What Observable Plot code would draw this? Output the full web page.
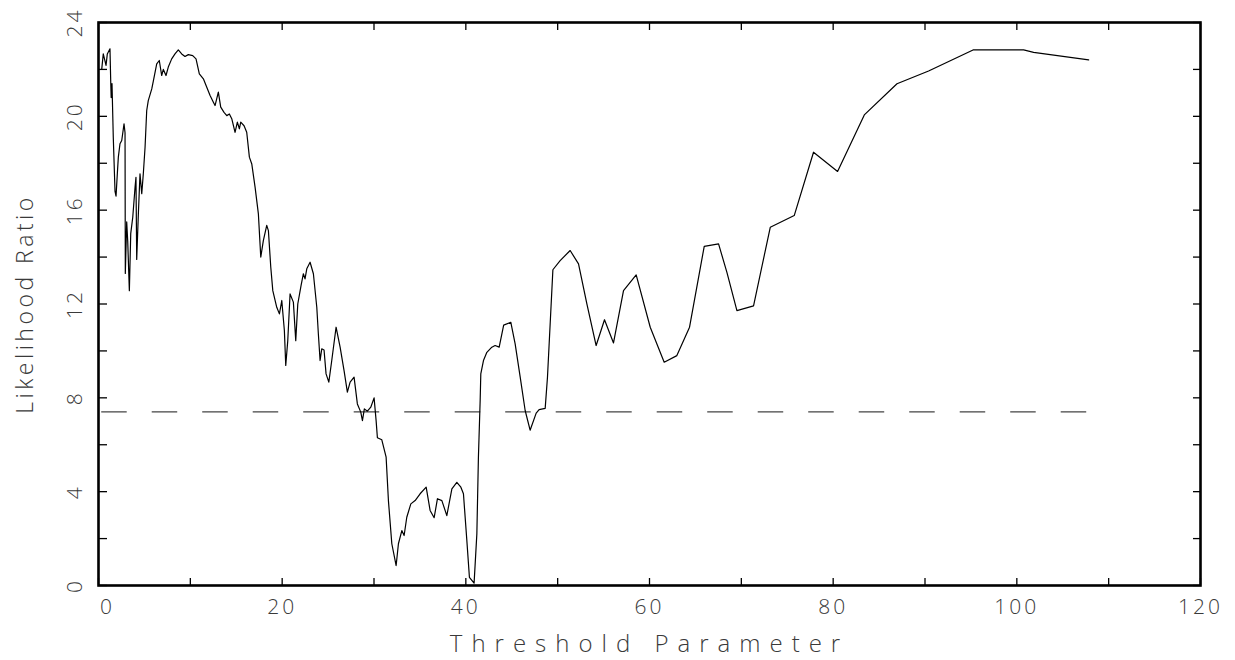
<!DOCTYPE html>
<html>
<head>
<meta charset="utf-8">
<script src="https://cdn.jsdelivr.net/npm/d3@7"></script>
<script src="https://cdn.jsdelivr.net/npm/@observablehq/plot@0.6"></script>
<style>
  html, body { margin: 0; padding: 0; background: #ffffff; }
  #chart svg { display: block; }
</style>
</head>
<body>
<div id="chart"></div>
<script>
// Threshold parameter (x) and likelihood ratio (y)
const threshold = [
  0.35, 0.52, 0.82, 0.96, 1.25, 1.33, 1.38, 1.47, 1.61, 1.80, 1.91, 2.05, 2.16, 2.34, 2.53, 2.78, 2.89, 2.92,
  3.07, 3.18, 3.36, 3.51, 3.73, 3.98, 4.08, 4.16, 4.34, 4.52, 4.71, 4.88, 5.07, 5.25, 5.42, 5.80, 5.97,
  6.34, 6.62, 6.88, 7.06, 7.35, 7.60, 7.97, 8.33, 8.69, 9.06, 9.42, 9.78, 10.26, 10.62, 10.98, 11.42,
  11.79, 12.15, 12.51, 12.69, 13.05, 13.31, 13.67, 13.97, 14.25, 14.51, 14.87, 15.12, 15.34, 15.49,
  15.85, 16.14, 16.43, 16.69, 17.05, 17.41, 17.67, 17.95, 18.32, 18.50, 18.76, 18.98, 19.41, 19.70,
  19.96, 20.02, 20.24, 20.39, 20.61, 20.86, 21.22, 21.48, 21.70, 22.06, 22.31, 22.49, 22.68, 23.04,
  23.40, 23.77, 23.94, 24.13, 24.31, 24.56, 24.78, 25.08, 25.40, 25.87, 26.31, 26.74, 27.10, 27.40,
  27.83, 28.19, 28.56, 28.74, 28.95, 29.28, 29.65, 30.01, 30.23, 30.37, 30.85, 31.32, 31.57, 31.94,
  32.41, 32.66, 33.03, 33.28, 33.57, 34.01, 34.48, 35.02, 35.68, 36.11, 36.55, 36.91, 37.39, 37.93,
  38.48, 39.02, 39.46, 39.74, 40.11, 40.39, 40.90, 41.20, 41.37, 41.56, 41.63, 41.92, 42.29, 42.83,
  43.19, 43.63, 44.12, 44.90, 45.37, 45.92, 46.46, 47.00, 47.66, 47.98, 48.64, 48.89, 49.48, 50.27,
  51.36, 52.27, 53.18, 54.19, 55.10, 56.08, 57.17, 58.55, 60.08, 61.60, 62.98, 64.36, 65.96, 67.52,
  68.43, 69.52, 71.33, 73.15, 75.76, 77.86, 80.48, 83.39, 86.95, 90.39, 95.23, 100.74, 101.83, 107.82
];
const likelihood = [
  22.00, 22.66, 22.17, 22.66, 22.88, 21.50, 20.80, 21.40, 19.10, 16.80, 16.60, 17.55, 18.26, 18.83, 18.97, 19.68, 19.30, 13.30,
  15.50, 14.70, 12.57, 15.00, 15.70, 16.98, 17.40, 13.90, 15.84, 17.55, 16.70, 17.55, 18.68, 20.25, 20.67, 21.17, 21.50,
  22.24, 22.38, 21.74, 22.00, 21.74, 22.10, 22.45, 22.66, 22.83, 22.66, 22.55, 22.63, 22.59, 22.45, 21.81, 21.60,
  21.24, 20.89, 20.60, 20.46, 21.03, 20.39, 20.17, 20.03, 20.10, 19.90, 19.32, 19.75, 19.47, 19.75,
  19.60, 19.32, 18.26, 17.97, 16.98, 15.84, 14.00, 14.70, 15.35, 15.13, 13.57, 12.57, 11.86, 11.58,
  12.15, 11.86, 10.87, 9.38, 10.44, 12.43, 12.08, 10.44, 12.00, 12.79, 13.29, 13.07, 13.50, 13.78,
  13.29, 11.86, 10.73, 9.59, 10.09, 10.04, 9.02, 8.67, 9.59, 11.01, 10.16, 9.16, 8.24, 8.67,
  8.88, 7.74, 7.39, 7.03, 7.53, 7.43, 7.60, 8.00, 7.03, 6.30, 6.21, 5.47, 3.62, 1.78,
  0.85, 1.78, 2.34, 2.13, 2.91, 3.48, 3.62, 3.91, 4.19, 3.20, 2.89, 3.70, 3.62, 2.98,
  4.12, 4.40, 4.19, 3.91, 1.92, 0.35, 0.10, 2.20, 5.47, 7.89, 9.02, 9.59, 9.94, 10.16,
  10.23, 10.16, 11.10, 11.22, 10.30, 8.88, 7.46, 6.62, 7.35, 7.50, 7.55, 8.88, 13.46, 13.85,
  14.28, 13.71, 12.01, 10.23, 11.33, 10.34, 12.57, 13.24, 11.01, 9.52, 9.80, 11.01, 14.46, 14.56,
  13.35, 11.72, 11.92, 15.27, 15.77, 18.47, 17.65, 20.06, 21.39, 21.93, 22.83, 22.83, 22.73, 22.41
];
const criticalValue = 7.4;

// Axis ticks and tick labels
const xTicks = [0, 10, 20, 30, 40, 50, 60, 70, 80, 90, 100, 110, 120];
const xLabels = [0, 20, 40, 60, 80, 100, 120];
const yTicks = [0, 2, 4, 6, 8, 10, 12, 14, 16, 18, 20, 22, 24];
const yLabels = [0, 4, 8, 12, 16, 20, 24];
const xTitle = "Threshold Parameter";
const yTitle = "Likelihood Ratio";

const data = threshold.map((x, i) => ({x, y: likelihood[i]}));
const xMin = d3.min(threshold), xMax = d3.max(threshold);

const FONT = "'Open Sans', 'DejaVu Sans', sans-serif";
const INK = "#3a3a3a";

const chart = Plot.plot({
  width: 1235,
  height: 660,
  marginTop: 22,
  marginRight: 35,
  marginBottom: 75,
  marginLeft: 98,
  style: {fontFamily: FONT, background: "#ffffff", color: INK},
  x: {domain: [0, 120]},
  y: {domain: [0, 24]},
  marks: [
    // inward ticks on all four sides
    Plot.axisX(xTicks, {anchor: "bottom", tickSize: 7, insetBottom: 7, tickFormat: () => "", stroke: "#000", strokeWidth: 1.3, label: null}),
    Plot.axisX(xTicks, {anchor: "top", tickSize: 7, insetTop: 7, tickFormat: () => "", stroke: "#000", strokeWidth: 1.3, label: null}),
    Plot.axisY(yTicks, {anchor: "left", tickSize: 9, insetLeft: 9, tickFormat: () => "", stroke: "#000", strokeWidth: 1.3, label: null}),
    Plot.axisY(yTicks, {anchor: "right", tickSize: 8, insetRight: 8, tickFormat: () => "", stroke: "#000", strokeWidth: 1.3, label: null}),
    // tick labels
    Plot.axisX(xLabels.filter(d => d !== 0), {anchor: "bottom", tickSize: 0, tickPadding: 14, fontSize: 21, fill: INK, label: null}),
    Plot.axisX(xLabels.filter(d => d === 0), {anchor: "bottom", tickSize: 0, tickPadding: 14, dx: 9, fontSize: 21, fill: INK, label: null}),
    Plot.axisY(yLabels, {anchor: "left", tickSize: 0, tickPadding: 23, rotate: -90, textAnchor: "middle", fontSize: 21, fill: INK, label: null}),
    // axis titles
    Plot.text([xTitle], {frameAnchor: "bottom", textAnchor: "middle", dy: 66, fontSize: 24, fill: INK}),
    Plot.text([yTitle], {frameAnchor: "left", textAnchor: "middle", dx: -73, rotate: -90, fontSize: 23, fill: INK}),
    // dashed critical value
    Plot.ruleY([criticalValue], {x1: xMin, x2: xMax, stroke: "#444", strokeWidth: 1.2, strokeDasharray: "25.5,25"}),
    // likelihood ratio curve
    Plot.line(data, {x: "x", y: "y", stroke: "#000", strokeWidth: 1.2}),
    Plot.frame({stroke: "#000", strokeWidth: 2.6})
  ]
});

// thin, widely spaced lettering like the original plotting font
d3.select(chart).selectAll("text").each(function () {
  const t = d3.select(this);
  const s = t.text();
  t.style("font-weight", 300);
  if (s === xTitle) t.attr("letter-spacing", "9px");
  else if (s === yTitle) t.attr("letter-spacing", "3.5px");
  else t.attr("letter-spacing", "3px");
});

document.getElementById("chart").appendChild(chart);
</script>
</body>
</html>
